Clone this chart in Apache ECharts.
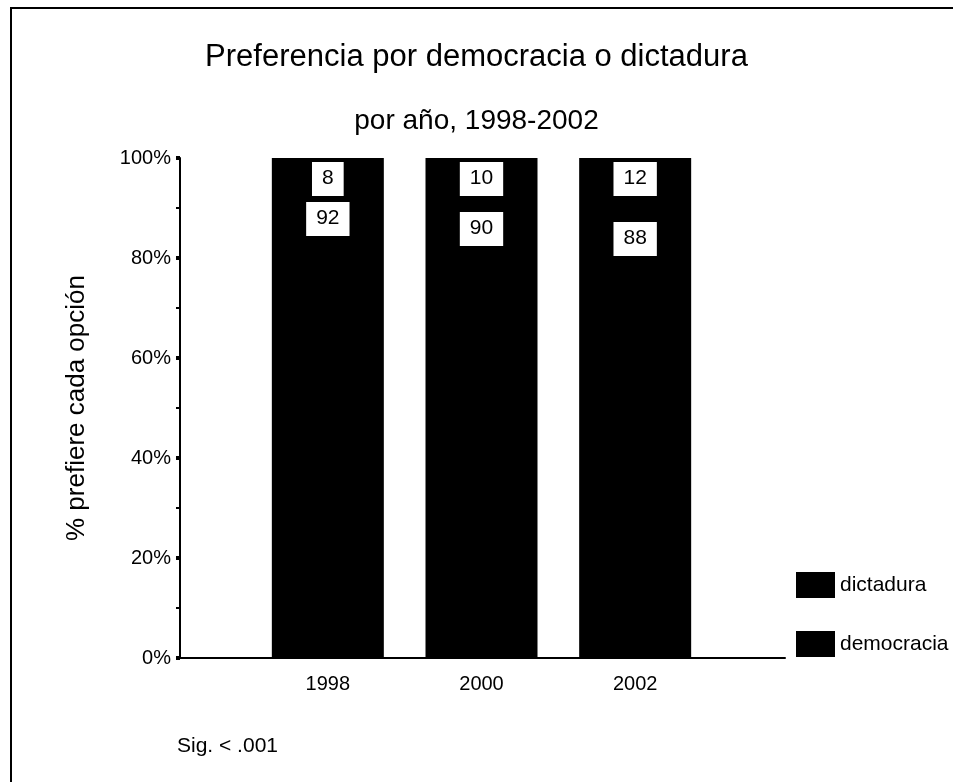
<!DOCTYPE html>
<html>
<head>
<meta charset="utf-8">
<title>Preferencia por democracia o dictadura</title>
<script src="https://cdn.jsdelivr.net/npm/echarts@6/dist/echarts.min.js"></script>
<style>
  html, body { margin: 0; padding: 0; background: #fff; }
  #frame {
    position: absolute; left: 10px; top: 7px; right: 0; bottom: 0;
    border-left: 2px solid #000; border-top: 2px solid #000;
  }
  #chart { position: absolute; left: 0; top: 0; width: 953px; height: 782px; }
</style>
</head>
<body>
<div id="frame"></div>
<div id="chart"></div>
<script>
  // data
  const years = ['1998', '2000', '2002']
  const democracia = [92, 90, 88]
  const dictadura = [8, 10, 12]

  const font = '"Liberation Sans", Arial, sans-serif'

  const chart = echarts.init(document.getElementById('chart'))

  const barLabel = {
    show: true,
    position: 'insideTop',
    distance: 4,
    color: '#000',
    fontFamily: font,
    fontSize: 21,
    backgroundColor: '#fff',
    padding: [6, 10, 7, 10]
  }

  chart.setOption({
    animation: false,
    textStyle: { fontFamily: font, color: '#000' },
    title: [
      {
        text: 'Preferencia por democracia o dictadura',
        left: 'center',
        top: 37,
        textStyle: { fontSize: 31, fontWeight: 'normal', color: '#000', fontFamily: font }
      },
      {
        text: 'por año, 1998-2002',
        left: 'center',
        top: 102,
        textStyle: { fontSize: 28, fontWeight: 'normal', color: '#000', fontFamily: font }
      },
      {
        text: 'Sig. < .001',
        left: 172,
        top: 731,
        textStyle: { fontSize: 21, fontWeight: 'normal', color: '#000', fontFamily: font }
      }
    ],
    legend: {
      orient: 'vertical',
      left: 791,
      top: 567,
      icon: 'rect',
      itemWidth: 39,
      itemHeight: 26,
      itemGap: 33,
      data: ['dictadura', 'democracia'],
      textStyle: { fontSize: 21, color: '#000', fontFamily: font }
    },
    // grid 0 holds the bars, grid 1 draws the long axes
    grid: [
      { left: 251, right: 241, top: 158, bottom: 124 },
      { left: 180, right: 168, top: 158, bottom: 124 }
    ],
    xAxis: [
      {
        gridIndex: 0,
        type: 'category',
        data: years,
        axisLine: { show: false },
        axisTick: { show: false },
        splitLine: { show: false },
        axisLabel: { interval: 0, fontSize: 20, color: '#000', margin: 16 }
      },
      {
        gridIndex: 1,
        type: 'value',
        min: 0,
        max: 1,
        axisLine: { show: true, lineStyle: { color: '#000', width: 2 } },
        axisTick: { show: false },
        axisLabel: { show: false },
        splitLine: { show: false }
      }
    ],
    yAxis: [
      {
        gridIndex: 0,
        type: 'value',
        min: 0,
        max: 100,
        show: false
      },
      {
        gridIndex: 1,
        type: 'value',
        min: 0,
        max: 100,
        interval: 20,
        name: '% prefiere cada opción',
        nameLocation: 'middle',
        nameGap: 90,
        nameTextStyle: { fontSize: 26, color: '#000', fontFamily: font },
        axisLine: { show: true, lineStyle: { color: '#000', width: 2 } },
        axisTick: { show: true, length: 4, lineStyle: { color: '#000', width: 4 } },
        minorTick: { show: true, splitNumber: 2, length: 4, lineStyle: { color: '#000', width: 2 } },
        splitLine: { show: false },
        axisLabel: { fontSize: 20, color: '#000', margin: 9, formatter: '{value}%' }
      }
    ],
    series: [
      {
        name: 'democracia',
        type: 'bar',
        stack: 'total',
        xAxisIndex: 0,
        yAxisIndex: 0,
        barWidth: 112,
        data: democracia,
        itemStyle: { color: '#000' },
        label: barLabel
      },
      {
        name: 'dictadura',
        type: 'bar',
        stack: 'total',
        xAxisIndex: 0,
        yAxisIndex: 0,
        barWidth: 112,
        data: dictadura,
        itemStyle: { color: '#000' },
        label: barLabel
      }
    ]
  })

  window.addEventListener('resize', () => chart.resize())
</script>
</body>
</html>
